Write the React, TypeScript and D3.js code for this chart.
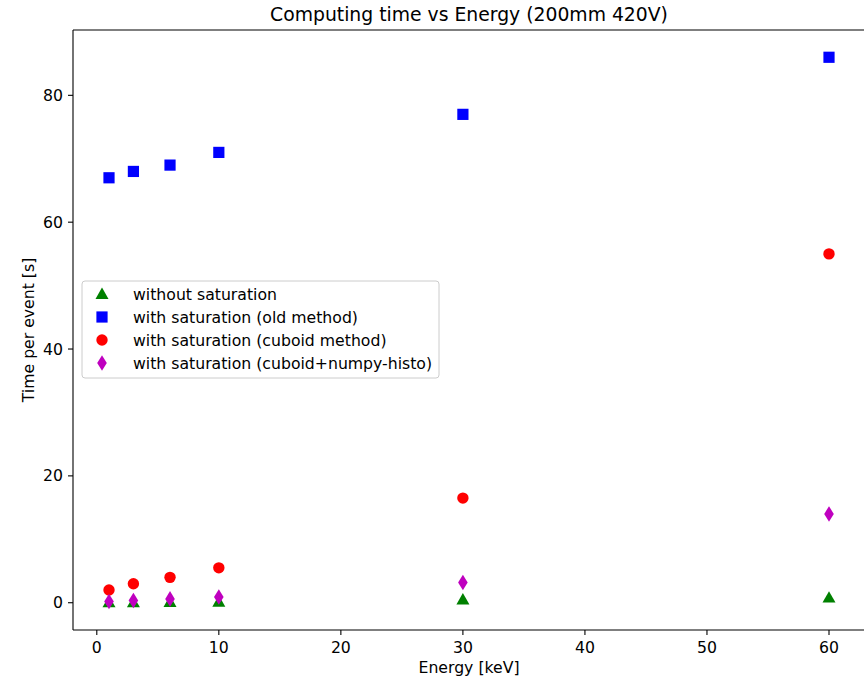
import React from "react";
import * as d3 from "d3";

const energies = [1, 3, 6, 10, 30, 60];
const withoutSat = [0.05, 0.05, 0.1, 0.15, 0.5, 0.8];
const oldMethod = [67, 68, 69, 71, 77, 86];
const cuboid = [2, 3, 4, 5.5, 16.5, 55];
const numpyHisto = [0.2, 0.35, 0.6, 0.9, 3.2, 14];
const xTicks = [0, 10, 20, 30, 40, 50, 60];
const yTicks = [0, 20, 40, 60, 80];
const seriesNames = [
  "without saturation",
  "with saturation (old method)",
  "with saturation (cuboid method)",
  "with saturation (cuboid+numpy-histo)",
];

const W = 864, H = 678;
const left = 73, right = 865, top = 30, bottom = 630;
const font = "DejaVu Sans, sans-serif";
const fs = 15.7;

function Marker({ kind, x, y }: { kind: string; x: number; y: number }) {
  if (kind === "tri") {
    const s = 6.5;
    return <path d={`M${x},${y - s} L${x + s},${y + s * 0.75} L${x - s},${y + s * 0.75} Z`} fill="green" />;
  }
  if (kind === "sq") {
    return <rect x={x - 5.6} y={y - 5.6} width={11.2} height={11.2} fill="blue" />;
  }
  if (kind === "circ") {
    return <circle cx={x} cy={y} r={5.7} fill="red" />;
  }
  return <path d={`M${x},${y - 7.8} L${x + 4.8},${y} L${x},${y + 7.8} L${x - 4.8},${y} Z`} fill="#bf00bf" />;
}

export default function App() {
  const x = d3.scaleLinear().domain([-1.95, 62.95]).range([left, right]);
  const y = d3.scaleLinear().domain([-4.3, 90.3]).range([bottom, top]);
  const series = [
    { kind: "tri", vals: withoutSat },
    { kind: "sq", vals: oldMethod },
    { kind: "circ", vals: cuboid },
    { kind: "dia", vals: numpyHisto },
  ];
  return (
    <svg width={W} height={H} style={{ position: "absolute", left: 0, top: 0 }}>
      <rect width={W} height={H} fill="white" />
      {series.map((s, si) =>
        energies.map((e, i) => <Marker key={`${si}-${i}`} kind={s.kind} x={x(e)} y={y(s.vals[i])} />)
      )}
      <line x1={left} x2={left} y1={top} y2={bottom} stroke="black" strokeWidth={1.1} />
      <line x1={left} x2={right} y1={bottom} y2={bottom} stroke="black" strokeWidth={1.1} />
      <line x1={left} x2={right} y1={top} y2={top} stroke="black" strokeWidth={1.1} />
      <line x1={right} x2={right} y1={top} y2={bottom} stroke="black" strokeWidth={1.1} />
      {xTicks.map((t) => (
        <g key={`x${t}`}>
          <line x1={x(t)} x2={x(t)} y1={bottom} y2={bottom + 5} stroke="black" strokeWidth={1.1} />
          <text x={x(t)} y={bottom + 23} textAnchor="middle" fontFamily={font} fontSize={fs}>{t}</text>
        </g>
      ))}
      {yTicks.map((t) => (
        <g key={`y${t}`}>
          <line x1={left - 5} x2={left} y1={y(t)} y2={y(t)} stroke="black" strokeWidth={1.1} />
          <text x={left - 10} y={y(t) + 5.6} textAnchor="end" fontFamily={font} fontSize={fs}>{t}</text>
        </g>
      ))}
      <text x={(left + right) / 2} y={21} textAnchor="middle" fontFamily={font} fontSize={18.8}>
        Computing time vs Energy (200mm 420V)
      </text>
      <text x={(left + right) / 2} y={673} textAnchor="middle" fontFamily={font} fontSize={fs}>
        Energy [keV]
      </text>
      <text transform={`translate(34,${(top + bottom) / 2}) rotate(-90)`} textAnchor="middle" fontFamily={font} fontSize={fs}>
        Time per event [s]
      </text>
      <g>
        <rect x={82} y={281} width={357} height={97} rx={3} fill="white" fillOpacity={0.8} stroke="#cccccc" strokeWidth={1} />
        {seriesNames.map((n, i) => (
          <g key={n}>
            <Marker kind={series[i].kind} x={102} y={294 + i * 23} />
            <text x={133} y={294 + i * 23 + 5.5} fontFamily={font} fontSize={fs}>{n}</text>
          </g>
        ))}
      </g>
    </svg>
  );
}
